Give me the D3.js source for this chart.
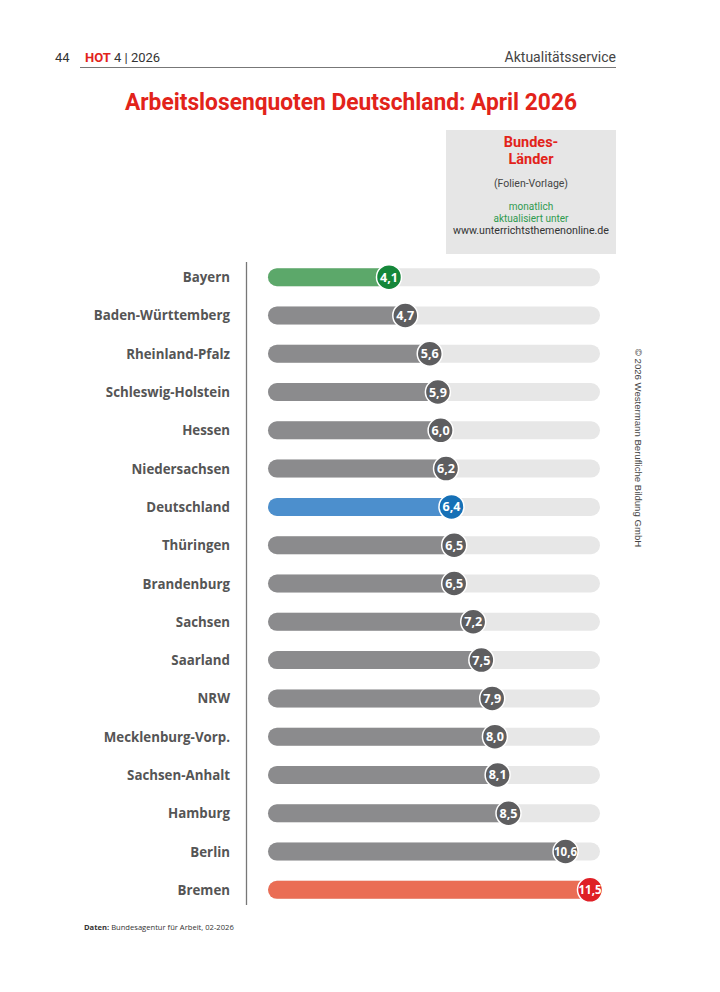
<!DOCTYPE html>
<html><head><meta charset="utf-8">
<script src="https://cdn.jsdelivr.net/npm/d3@7"></script>
<style>
html,body{margin:0;padding:0;background:#fff;}
svg{display:block;}
</style></head>
<body>
<svg id="c" width="720" height="992"></svg>
<script>
const regions = ["Bayern","Baden-Württemberg","Rheinland-Pfalz","Schleswig-Holstein","Hessen","Niedersachsen","Deutschland","Thüringen","Brandenburg","Sachsen","Saarland","NRW","Mecklenburg-Vorp.","Sachsen-Anhalt","Hamburg","Berlin","Bremen"];
const rates = [4.1,4.7,5.6,5.9,6.0,6.2,6.4,6.5,6.5,7.2,7.5,7.9,8.0,8.1,8.5,10.6,11.5];
const highlight = {"Bayern":"green","Deutschland":"blue","Bremen":"red"};

const palette = {
  green:{bar:"#5ca86a",dot:"#15873a"},
  blue:{bar:"#4c8fcd",dot:"#1670b6"},
  red:{bar:"#ea6d55",dot:"#df2027"},
  gray:{bar:"#8b8b8d",dot:"#5e5e60"}
};
const fmt = v => d3.format(".1f")(v).replace(".", ",");

const svg = d3.select("#c");

// header
svg.append("text").attr("x",55).attr("y",62).attr("font-family","Roboto, sans-serif").attr("font-size",13).attr("fill","#333").text("44");
svg.append("text").attr("x",85).attr("y",62).attr("font-family","Roboto, sans-serif").attr("font-size",13).attr("font-weight","bold").attr("fill","#e2231a").text("HOT");
svg.append("text").attr("x",114).attr("y",62).attr("font-family","Roboto, sans-serif").attr("font-size",13).attr("fill","#333").text("4 | 2026");
svg.append("text").attr("x",616).attr("y",62).attr("text-anchor","end").attr("font-family","Roboto, sans-serif").attr("font-size",14).attr("fill","#444").text("Aktualitätsservice");
svg.append("line").attr("x1",80).attr("x2",616).attr("y1",67.5).attr("y2",67.5).attr("stroke","#777").attr("stroke-width",1.2);

// title
svg.append("text").attr("x",351).attr("y",110).attr("text-anchor","middle")
  .attr("font-family","Roboto, sans-serif").attr("font-weight","bold").attr("font-size",23)
  .attr("fill","#e2231a").attr("textLength",452).attr("lengthAdjust","spacingAndGlyphs")
  .text("Arbeitslosenquoten Deutschland: April 2026");

// info box
const bx = 446, bw = 170;
svg.append("rect").attr("x",bx).attr("y",130).attr("width",bw).attr("height",124).attr("fill","#e6e6e6");
const cx = bx + bw/2;
[["Bundes-",147],["Länder",164]].forEach(([t,y]) =>
  svg.append("text").attr("x",cx).attr("y",y).attr("text-anchor","middle").attr("font-family","Roboto,sans-serif")
   .attr("font-weight","bold").attr("font-size",14.5).attr("fill","#e2231a").text(t));
svg.append("text").attr("x",cx).attr("y",187).attr("text-anchor","middle").attr("font-family","Roboto,sans-serif")
   .attr("font-size",10.5).attr("fill","#444").text("(Folien-Vorlage)");
[["monatlich",210],["aktualisiert unter",222]].forEach(([t,y]) =>
  svg.append("text").attr("x",cx).attr("y",y).attr("text-anchor","middle").attr("font-family","Roboto,sans-serif")
   .attr("font-size",10).attr("fill","#2e9a4f").text(t));
svg.append("text").attr("x",cx).attr("y",234).attr("text-anchor","middle").attr("font-family","Roboto,sans-serif")
   .attr("font-size",10).attr("fill","#333").attr("textLength",156).attr("lengthAdjust","spacingAndGlyphs").text("www.unterrichtsthemenonline.de");

// scales
const x = d3.scaleLinear().domain([4.1,11.5]).range([389,590]);
const y = d3.scaleBand().domain(regions).range([258,909]).paddingInner(0);
const barH = 18, trackStart = 268, trackEnd = 600, r = 12.5;

// axis line
svg.append("line").attr("x1",246.5).attr("x2",246.5).attr("y1",262).attr("y2",905).attr("stroke","#777").attr("stroke-width",1.3);

const rows = svg.selectAll("g.row").data(regions.map((n,i)=>({n,v:rates[i],c:palette[highlight[n]||"gray"]})))
  .join("g").attr("class","row").attr("transform",d=>`translate(0,${y(d.n)+y.bandwidth()/2})`);

rows.append("text").attr("x",230).attr("y",5).attr("text-anchor","end")
  .attr("font-family","'Open Sans',sans-serif").attr("font-weight","bold").attr("font-size",13.3).attr("fill","#555")
  .text(d=>d.n);
rows.append("rect").attr("x",trackStart).attr("y",-barH/2).attr("width",trackEnd-trackStart).attr("height",barH)
  .attr("rx",barH/2).attr("fill","#e7e7e7");
rows.append("rect").attr("x",trackStart).attr("y",-barH/2).attr("width",d=>x(d.v)-trackStart).attr("height",barH)
  .attr("rx",barH/2).attr("fill",d=>d.c.bar);
rows.append("circle").attr("cx",d=>x(d.v)).attr("cy",0).attr("r",r).attr("fill",d=>d.c.dot)
  .attr("stroke","#fff").attr("stroke-width",1.5);
rows.append("text").attr("x",d=>x(d.v)).attr("y",4.5).attr("text-anchor","middle")
  .attr("font-family","'Open Sans',sans-serif").attr("font-weight","bold").attr("font-size",12).attr("fill","#fff")
  .attr("textLength",d=>d.v>=10?23:18).attr("lengthAdjust","spacingAndGlyphs")
  .text(d=>fmt(d.v));

// copyright
svg.append("text").attr("transform","translate(635,448) rotate(90)").attr("text-anchor","middle")
  .attr("font-family","'Liberation Sans',Arial,sans-serif").attr("font-size",9.6).attr("fill","#444")
  .text("© 2026 Westermann Berufliche Bildung GmbH");

// footer
const ft = svg.append("text").attr("x",84).attr("y",930).attr("font-family","'Open Sans',sans-serif").attr("font-size",7.6).attr("fill","#333");
ft.append("tspan").attr("font-weight","bold").text("Daten:");
ft.append("tspan").text(" Bundesagentur für Arbeit, 02-2026");
</script>
</body></html>
